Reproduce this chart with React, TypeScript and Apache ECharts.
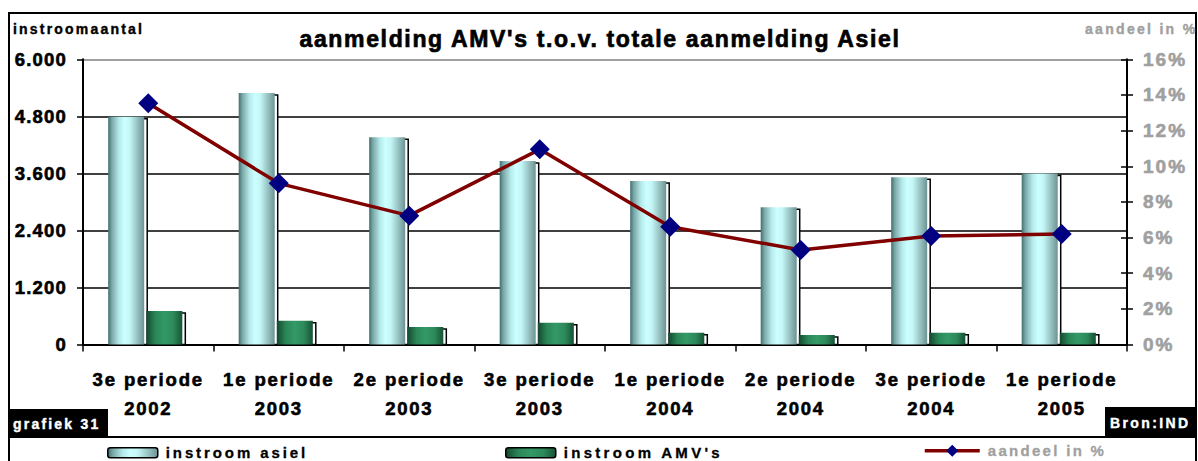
import React, { useEffect, useRef } from 'react';
import * as echarts from 'echarts';

const categories = [
  '3e periode\n2002',
  '1e periode\n2003',
  '2e periode\n2003',
  '3e periode\n2003',
  '1e periode\n2004',
  '2e periode\n2004',
  '3e periode\n2004',
  '1e periode\n2005',
];
const instroomAsiel = [4790, 5290, 4360, 3860, 3440, 2890, 3520, 3600];
const instroomAMV = [705, 500, 370, 455, 245, 200, 245, 245];
const aandeelPct = [13.53, 9.04, 7.23, 10.95, 6.61, 5.3, 6.09, 6.2];

const leftTickValues = [0, 1200, 2400, 3600, 4800, 6000];
const leftTickLabels = ['0', '1.200', '2.400', '3.600', '4.800', '6.000'];
const rightTickValues = [0, 2, 4, 6, 8, 10, 12, 14, 16];
const rightTickLabels = ['0%', '2%', '4%', '6%', '8%', '10%', '12%', '14%', '16%'];

const SERIES_ASIEL = 'instroom asiel';
const SERIES_AMV = "instroom AMV's";
const SERIES_PCT = 'aandeel in %';
const TITLE = "aanmelding AMV's t.o.v. totale aanmelding Asiel";

const FONT = "'Liberation Sans', Arial, Helvetica, sans-serif";
const GRAY = '#a0a0a0';

const asielStops = [
  { offset: 0, color: '#3f6f6f' },
  { offset: 0.1, color: '#7aa6a6' },
  { offset: 0.3, color: '#b5eaea' },
  { offset: 0.45, color: '#ccffff' },
  { offset: 0.6, color: '#c4f6f6' },
  { offset: 0.8, color: '#99c4c4' },
  { offset: 1, color: '#6d9393' },
];
const amvStops = [
  { offset: 0, color: '#14472f' },
  { offset: 0.25, color: '#2a8656' },
  { offset: 0.5, color: '#339966' },
  { offset: 0.75, color: '#2d8a5a' },
  { offset: 1, color: '#175236' },
];

const grad = (stops: any[]) => new echarts.graphic.LinearGradient(0, 0, 1, 0, stops);

const spacingMap: Record<string, number> = {
  [TITLE]: 1.65,
  instroomaantal: 2.2,
  [SERIES_PCT]: 2.3,
  [SERIES_ASIEL]: 2.9,
  [SERIES_AMV]: 3.3,
  'grafiek 31': 2.2,
  'Bron:IND': 2.4,
};
const spacingFor = (t: string): number | null => {
  if (spacingMap[t] != null) return spacingMap[t];
  if (/periode/.test(t)) return 1.9;
  if (/^\d{4}$/.test(t)) return 1.7;
  if (/%$/.test(t)) return 2.0;
  if (leftTickLabels.includes(t)) return 1.2;
  return null;
};

function barSeries(name: string, data: number[], offsetFrac: number, stops: any[]) {
  return {
    type: 'custom',
    name,
    data: data.map((v, i) => [i, v]),
    encode: { x: 0, y: 1 },
    itemStyle: { color: grad(stops) },
    z: 3,
    renderItem: (_params: any, api: any) => {
      const i = api.value(0);
      const v = api.value(1);
      const p = api.coord([i, v]);
      const b = api.coord([i, 0]);
      const band = api.size([1, 0])[0];
      const w = band * 0.276;
      const x = p[0] + band * offsetFrac;
      const h = b[1] - p[1];
      return {
        type: 'group',
        children: [
          {
            type: 'rect',
            shape: { x: x + 3, y: p[1] + 2, width: w, height: Math.max(h - 2, 0) },
            style: { fill: '#ffffff', stroke: '#000000', lineWidth: 1.5 },
          },
          {
            type: 'rect',
            shape: { x, y: p[1], width: w, height: h },
            style: { fill: grad(stops) },
          },
        ],
      };
    },
  };
}

const heavy = (color: string, w = 0.6) => ({ textBorderColor: color, textBorderWidth: w });

export default function App() {
  const ref = useRef<HTMLDivElement>(null);
  useEffect(() => {
    const el = ref.current!;
    const chart = echarts.init(el, null, { renderer: 'svg' });
    const legendText = (color: string) => ({
      fontFamily: FONT,
      fontSize: 15,
      fontWeight: 'bold',
      color,
      padding: [2, 0, 0, 3],
      ...heavy(color, 0.3),
    });
    const gText = (text: string, x: number, y: number, color: string, size: number, align = 'left', w = 0.4) => ({
      type: 'text',
      silent: true,
      z: 101,
      x,
      y,
      style: {
        text,
        fill: color,
        font: `bold ${size}px ${FONT}`,
        textAlign: align,
        textVerticalAlign: 'middle',
        stroke: color,
        lineWidth: w,
      },
    });
    const option: any = {
      animation: false,
      backgroundColor: '#ffffff',
      textStyle: { fontFamily: FONT },
      grid: { left: 83, right: 71, top: 59.3, bottom: 116.5, containLabel: false },
      legend: [
        {
          data: [
            {
              name: SERIES_ASIEL,
              icon: 'roundRect',
              itemStyle: { color: grad(asielStops), borderColor: '#000', borderWidth: 1.5 },
            },
          ],
          left: 107,
          top: 445,
          padding: 0,
          itemWidth: 50,
          itemHeight: 10,
          selectedMode: false,
          textStyle: legendText('#000000'),
        },
        {
          data: [
            {
              name: SERIES_AMV,
              icon: 'roundRect',
              itemStyle: { color: grad(amvStops), borderColor: '#000', borderWidth: 1.5 },
            },
          ],
          left: 505,
          top: 445,
          padding: 0,
          itemWidth: 50,
          itemHeight: 10,
          selectedMode: false,
          textStyle: legendText('#000000'),
        },
        {
          data: [SERIES_PCT],
          left: 923,
          top: 443,
          padding: 0,
          itemWidth: 55,
          itemHeight: 15,
          lineStyle: { width: 3.5, color: '#800000' },
          selectedMode: false,
          textStyle: { ...legendText(GRAY), padding: [4, 0, 0, 3] },
        },
      ],
      xAxis: {
        type: 'category',
        data: categories,
        boundaryGap: true,
        axisLine: { lineStyle: { color: '#000', width: 2 } },
        axisTick: { show: true, length: 7, lineStyle: { color: '#000', width: 1.5 } },
        axisLabel: {
          interval: 0,
          margin: 20,
          fontFamily: FONT,
          fontSize: 18.5,
          fontWeight: 'bold',
          color: '#000',
          lineHeight: 29.5,
          ...heavy('#000', 0.6),
        },
        splitLine: { show: false },
      },
      yAxis: [
        {
          type: 'value',
          position: 'left',
          min: 0,
          max: 6000,
          interval: 1200,
          axisLine: { show: true, lineStyle: { color: '#000', width: 2 } },
          axisTick: { show: true, length: 6, lineStyle: { color: '#000', width: 1.5 } },
          axisLabel: {
            margin: 16,
            fontFamily: FONT,
            fontSize: 18.5,
            fontWeight: 'bold',
            color: '#000',
            ...heavy('#000', 0.6),
            formatter: (v: number) => leftTickLabels[leftTickValues.indexOf(v)] ?? '',
          },
          splitLine: {
            show: true,
            lineStyle: {
              color: ['#000', '#000', '#000', '#000', '#000', '#808080'],
              width: 1.5,
            },
          },
        },
        {
          type: 'value',
          position: 'right',
          min: 0,
          max: 16,
          interval: 2,
          axisLine: { show: true, lineStyle: { color: '#000', width: 2 } },
          axisTick: { show: true, length: 6, lineStyle: { color: '#000', width: 1.5 } },
          axisLabel: {
            margin: 16,
            fontFamily: FONT,
            fontSize: 19,
            fontWeight: 'bold',
            color: GRAY,
            ...heavy(GRAY, 0.6),
            formatter: (v: number) => rightTickLabels[rightTickValues.indexOf(v)] ?? '',
          },
          splitLine: { show: false },
        },
        {
          type: 'value',
          position: 'right',
          min: 0,
          max: 16,
          interval: 2,
          axisLine: { show: false },
          axisTick: { show: true, inside: true, length: 6, lineStyle: { color: '#000', width: 1.5 } },
          axisLabel: { show: false },
          splitLine: { show: false },
        },
      ],
      series: [
        barSeries(SERIES_ASIEL, instroomAsiel, -0.307, asielStops),
        barSeries(SERIES_AMV, instroomAMV, -0.015, amvStops),
        {
          type: 'line',
          name: SERIES_PCT,
          yAxisIndex: 1,
          data: aandeelPct,
          z: 5,
          symbol: 'diamond',
          symbolSize: 20,
          lineStyle: { color: '#800000', width: 3.5 },
          itemStyle: { color: '#000080' },
        },
      ],
      graphic: [
        {
          type: 'rect',
          silent: true,
          z: 100,
          shape: { x: 9, y: 13, width: 1187, height: 520 },
          style: { fill: 'none', stroke: '#000', lineWidth: 2 },
        },
        {
          type: 'line',
          silent: true,
          z: 100,
          shape: { x1: 9, y1: 437, x2: 1196, y2: 437 },
          style: { stroke: '#000', lineWidth: 2 },
        },
        {
          type: 'rect',
          silent: true,
          z: 100,
          shape: { x: 9, y: 409, width: 99, height: 28 },
          style: { fill: '#000' },
        },
        gText('grafiek 31', 13, 424, '#fff', 14),
        {
          type: 'rect',
          silent: true,
          z: 100,
          shape: { x: 1105, y: 407, width: 91, height: 30 },
          style: { fill: '#000' },
        },
        gText('Bron:IND', 1110, 422.5, '#fff', 14),
        gText('instroomaantal', 13, 29, '#000', 14),
        gText(SERIES_PCT, 1085, 29, GRAY, 14),
        gText(TITLE, 600, 39, '#000', 23, 'center', 0.7),
      ],
    };
    chart.setOption(option);
    const apply = () => {
      el.querySelectorAll('text').forEach((t) => {
        const s = spacingFor((t.textContent || '').trim());
        if (s != null) (t as SVGTextElement).style.letterSpacing = `${s}px`;
      });
    };
    apply();
    chart.on('finished', apply);
    return () => {
      chart.dispose();
    };
  }, []);
  return (
    <div
      ref={ref}
      style={{ position: 'absolute', left: 0, top: 0, width: 1198, height: 461, background: '#fff' }}
    />
  );
}
